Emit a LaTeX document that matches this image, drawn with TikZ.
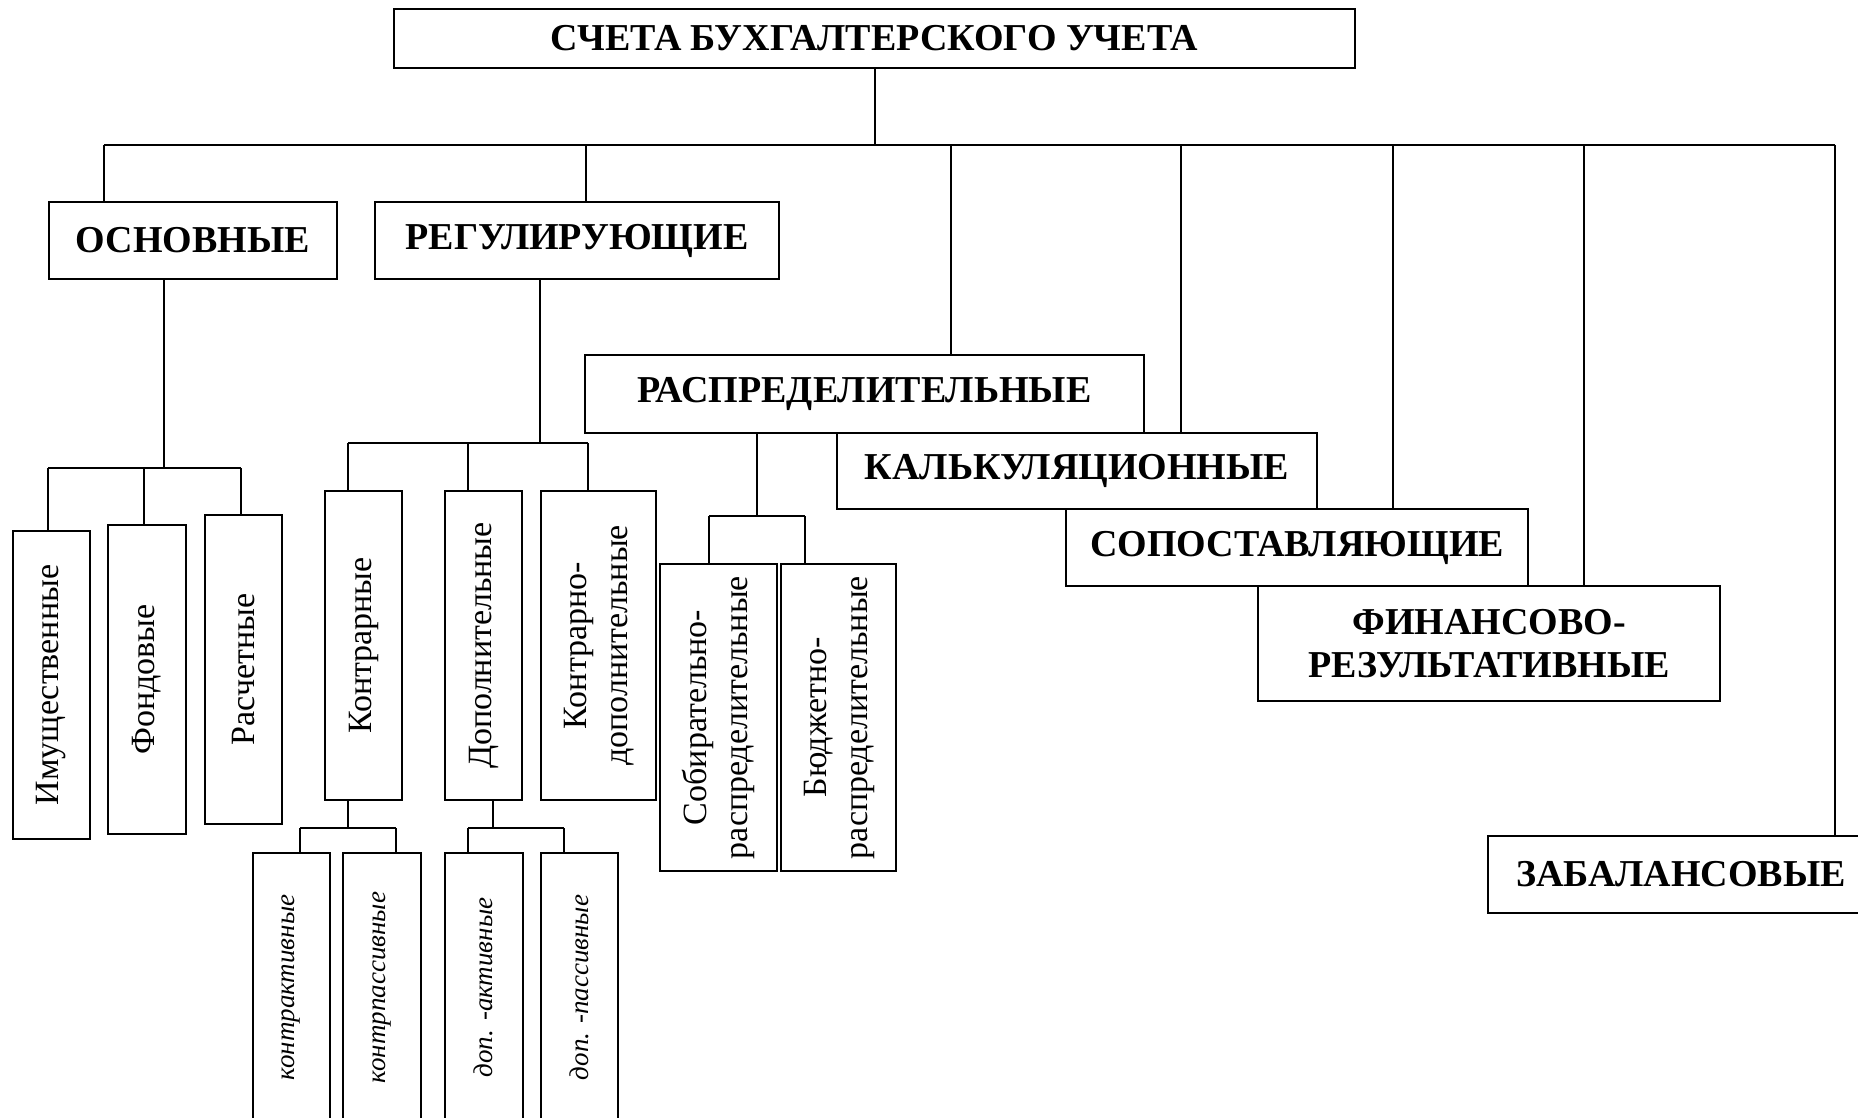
\documentclass[tikz,border=0pt]{standalone}
\usepackage{fontspec}
\setmainfont{Liberation Serif}
\usepackage{graphicx}
\begin{document}
\begin{tikzpicture}[x=1pt,y=-1pt,
  hbox/.style={draw, line width=2pt, inner sep=0pt, outer sep=0pt, align=center, fill=white,
    font=\fontsize{38}{43}\selectfont\bfseries},
  vbox/.style={draw, line width=2pt, inner sep=0pt, outer sep=0pt, fill=white,
    font=\fontsize{34}{41}\selectfont},
  ibox/.style={vbox, font=\fontsize{27}{33}\selectfont\itshape},
  conn/.style={line width=1.6pt}]
\useasboundingbox (0,0) rectangle (1858,1118);
\clip (0,0) rectangle (1858,1118);

% top level
\node[hbox, minimum width=961, minimum height=59] (top) at (874.5,38.5) {СЧЕТА БУХГАЛТЕРСКОГО УЧЕТА};
\node[hbox, minimum width=288, minimum height=77] (osn) at (193,240.5) {ОСНОВНЫЕ};
\node[hbox, minimum width=404, minimum height=77] (reg) at (577,240.5) {РЕГУЛИРУЮЩИЕ};
\node[hbox, minimum width=559, minimum height=78] (rasp) at (864.5,394) {РАСПРЕДЕЛИТЕЛЬНЫЕ};
\node[hbox, minimum width=480, minimum height=76] (kalk) at (1077,471) {КАЛЬКУЛЯЦИОННЫЕ};
\node[hbox, minimum width=462, minimum height=77] (sop) at (1297,547.5) {СОПОСТАВЛЯЮЩИЕ};
\node[hbox, minimum width=462, minimum height=115] (fin) at (1489,643.5) {ФИНАНСОВО-\\РЕЗУЛЬТАТИВНЫЕ};
\node[hbox, minimum width=386, minimum height=77] (zab) at (1681,874.5) {ЗАБАЛАНСОВЫЕ};

% vertical boxes
\node[vbox, minimum width=77, minimum height=308] (imu) at (51,685) {\rotatebox{90}{Имущественные}};
\node[vbox, minimum width=78, minimum height=309] (fond) at (147,679.5) {\rotatebox{90}{Фондовые}};
\node[vbox, minimum width=77, minimum height=309] (rasch) at (243.5,669.5) {\rotatebox{90}{Расчетные}};
\node[vbox, minimum width=77, minimum height=309] (kontr) at (363.5,645.5) {\rotatebox{90}{Контрарные}};
\node[vbox, minimum width=77, minimum height=309] (dop) at (483.5,645.5) {\rotatebox{90}{Дополнительные}};
\node[vbox, minimum width=115, minimum height=309] (kdop) at (598.5,645.5) {\rotatebox{90}{\begin{tabular}{@{}c@{}}Контрарно-\\дополнительные\end{tabular}}};
\node[vbox, minimum width=117, minimum height=307] (sob) at (718.5,717.5) {\rotatebox{90}{\begin{tabular}{@{}c@{}}Собирательно-\\распределительные\end{tabular}}};
\node[vbox, minimum width=115, minimum height=307] (bud) at (838.5,717.5) {\rotatebox{90}{\begin{tabular}{@{}c@{}}Бюджетно-\\распределительные\end{tabular}}};

\node[ibox, minimum width=77, minimum height=269] (kakt) at (291,987.5) {\rotatebox{90}{контрактивные}};
\node[ibox, minimum width=78, minimum height=269] (kpas) at (382,987.5) {\rotatebox{90}{контрпассивные}};
\node[ibox, minimum width=78, minimum height=269] (dakt) at (483.5,987.5) {\rotatebox{90}{доп. -активные}};
\node[ibox, minimum width=77, minimum height=269] (dpas) at (579.5,987.5) {\rotatebox{90}{доп. -пассивные}};

% main bus
\coordinate (b0) at (875,145);
\coordinate (bL) at (104,145);
\coordinate (bR) at (1835,145);
\coordinate (b2) at (586,145);
\coordinate (b3) at (951,145);
\coordinate (b4) at (1181,145);
\coordinate (b5) at (1393,145);
\coordinate (b6) at (1584,145);
\draw[conn] (top.south -| b0) -- (b0);
\draw[conn] (bL) -- (bR);
\draw[conn] (bL) -- (bL |- osn.north);
\draw[conn] (b2) -- (b2 |- reg.north);
\draw[conn] (b3) -- (b3 |- rasp.north);
\draw[conn] (b4) -- (b4 |- kalk.north);
\draw[conn] (b5) -- (b5 |- sop.north);
\draw[conn] (b6) -- (b6 |- fin.north);
\draw[conn] (bR) -- (bR |- zab.north);

% ОСНОВНЫЕ
\coordinate (o0) at (164,468);
\coordinate (oL) at (48,468);
\coordinate (oM) at (144,468);
\coordinate (oR) at (241,468);
\draw[conn] (osn.south -| o0) -- (o0);
\draw[conn] (oL) -- (oR);
\draw[conn] (oL) -- (oL |- imu.north);
\draw[conn] (oM) -- (oM |- fond.north);
\draw[conn] (oR) -- (oR |- rasch.north);

% РЕГУЛИРУЮЩИЕ
\coordinate (r0) at (540,443);
\coordinate (rL) at (348,443);
\coordinate (rM) at (468,443);
\coordinate (rR) at (588,443);
\draw[conn] (reg.south -| r0) -- (r0);
\draw[conn] (rL) -- (rR);
\draw[conn] (rL) -- (rL |- kontr.north);
\draw[conn] (rM) -- (rM |- dop.north);
\draw[conn] (rR) -- (rR |- kdop.north);

% Контрарные
\coordinate (k0) at (348,828);
\coordinate (kL) at (300,828);
\coordinate (kR) at (396,828);
\draw[conn] (kontr.south -| k0) -- (k0);
\draw[conn] (kL) -- (kR);
\draw[conn] (kL) -- (kL |- kakt.north);
\draw[conn] (kR) -- (kR |- kpas.north);

% Дополнительные
\coordinate (d0) at (493,828);
\coordinate (dL) at (468,828);
\coordinate (dR) at (564,828);
\draw[conn] (dop.south -| d0) -- (d0);
\draw[conn] (dL) -- (dR);
\draw[conn] (dL) -- (dL |- dakt.north);
\draw[conn] (dR) -- (dR |- dpas.north);

% РАСПРЕДЕЛИТЕЛЬНЫЕ
\coordinate (p0) at (757,516);
\coordinate (pL) at (709,516);
\coordinate (pR) at (805,516);
\draw[conn] (rasp.south -| p0) -- (p0);
\draw[conn] (pL) -- (pR);
\draw[conn] (pL) -- (pL |- sob.north);
\draw[conn] (pR) -- (pR |- bud.north);
\end{tikzpicture}
\end{document}
